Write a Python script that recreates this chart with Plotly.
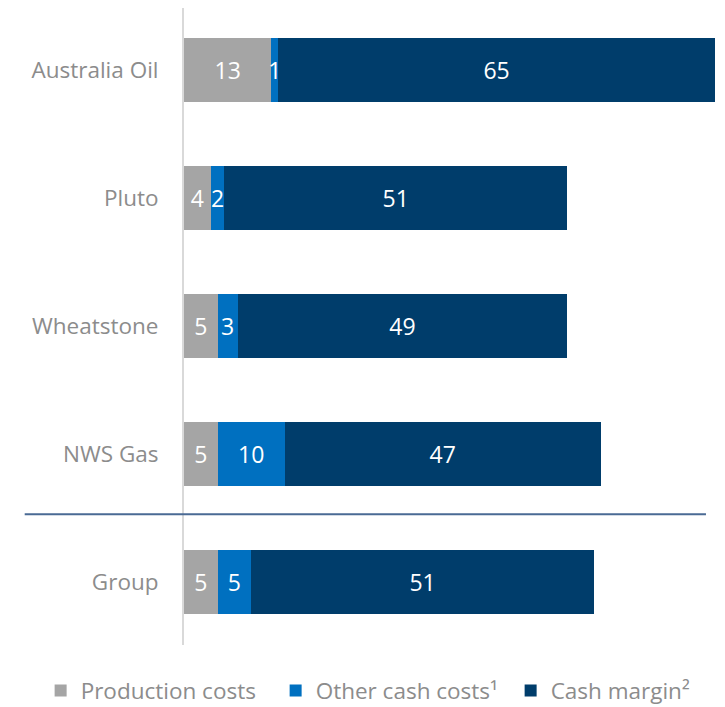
import plotly.graph_objects as go

categories = ["Australia Oil", "Pluto", "Wheatstone", "NWS Gas", "Group"]
production_costs = [13, 4, 5, 5, 5]
other_cash_costs = [1, 2, 3, 10, 5]
cash_margin = [65, 51, 49, 47, 51]

series = [
    ("Production costs", production_costs, "#A5A5A5"),
    ("Other cash costs\u00b9", other_cash_costs, "#0070C0"),
    ("Cash margin\u00b2", cash_margin, "#003D6B"),
]

FONT = "Open Sans"
GRAY = "#8C8C8C"

fig = go.Figure()
for name, vals, color in series:
    fig.add_trace(go.Bar(
        y=categories, x=vals, name=name, orientation="h",
        marker=dict(color=color, line=dict(width=0)),
        text=[str(v) for v in vals], textposition="inside",
        insidetextanchor="middle", textangle=0,
        textfont=dict(color="white", size=23, family=FONT),
        width=0.5,
    ))

fig.add_shape(type="line", xref="paper", yref="y",
              x0=-0.3, x1=0.983, y0=3.47, y1=3.47,
              line=dict(color="#4A6A94", width=2))

fig.update_layout(
    width=725, height=707,
    barmode="stack",
    paper_bgcolor="white", plot_bgcolor="white",
    margin=dict(l=176, r=18, t=0, b=70, autoexpand=False),
    font=dict(family=FONT, color=GRAY, size=22.5),
    uniformtext=dict(minsize=23, mode="show"),
    showlegend=True,
    legend=dict(orientation="h", xref="paper", yref="paper",
                x=-0.27, xanchor="left", y=-0.072, yanchor="middle",
                font=dict(size=22.5, color=GRAY, family=FONT),
                traceorder="normal", entrywidth=190, entrywidthmode="pixels"),
    xaxis=dict(visible=False, range=[0, 79]),
    yaxis=dict(categoryorder="array", categoryarray=categories,
               range=[4.49, -0.484],
               showline=True, linecolor="#D9D9D9", linewidth=2, automargin=False,
               showgrid=False, ticks="", ticklabelstandoff=19,
               tickfont=dict(size=22.5, color=GRAY, family=FONT)),
)

fig.write_html("out.html")
